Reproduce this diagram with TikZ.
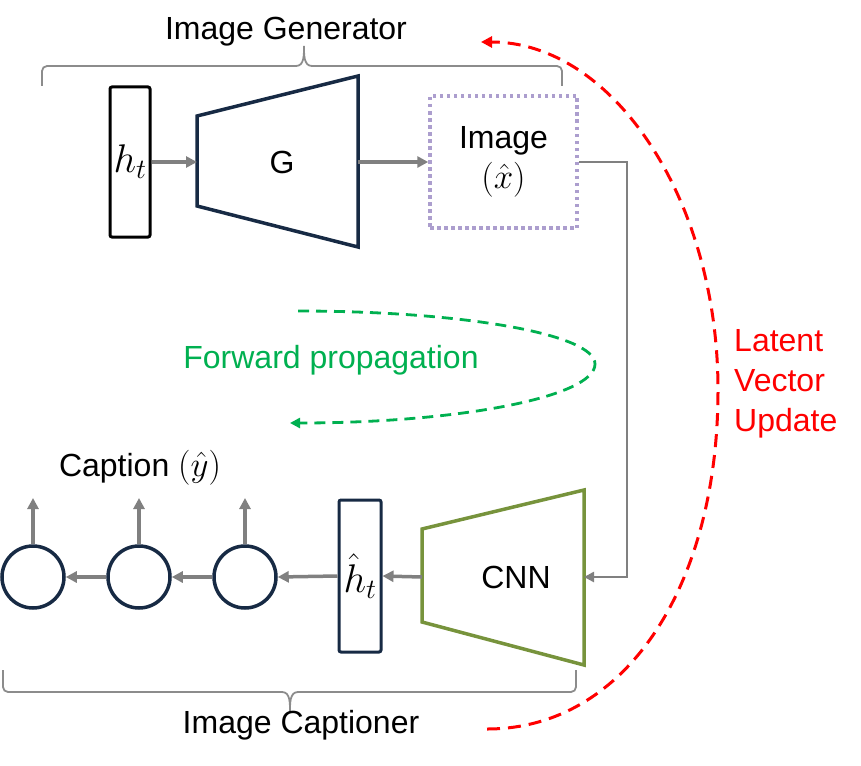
\documentclass[tikz,border=0pt]{standalone}
\usepackage{fix-cm}
\usepackage{fontspec}
\setmainfont{Liberation Sans}
\usetikzlibrary{arrows.meta}
\definecolor{navy}{RGB}{23,42,68}
\definecolor{arrgray}{RGB}{128,128,128}
\definecolor{bracegray}{RGB}{140,140,140}
\definecolor{lav}{RGB}{172,158,206}
\definecolor{olive}{RGB}{119,147,60}
\definecolor{fgreen}{RGB}{0,176,80}
\definecolor{lred}{RGB}{255,0,0}
\newcommand{\bigmath}[1]{{\fontsize{40}{44}\selectfont$#1$}}
\newcommand{\midmath}[1]{{\fontsize{35}{44}\selectfont$#1$}}
\begin{document}
\begin{tikzpicture}[x=1pt,y=-1pt,
  every node/.style={font=\fontsize{32}{44}\selectfont, inner sep=0pt},
  arr/.style={draw=arrgray, line width=3.5pt, -{Triangle[length=11pt,width=11pt]}},
  thinarr/.style={draw=arrgray, line width=2.5pt, -{Triangle[length=10pt,width=10pt]}},
  vecbox/.style={draw, line width=3pt, rounded corners=2pt, minimum width=40pt, minimum height=150pt},
  cell/.style={circle, draw=navy, line width=3.5pt, minimum size=62pt},
  bracestyle/.style={draw=bracegray, line width=1.8pt},
  trap/.style={line width=3.5pt, line join=miter},
  loopline/.style={line width=2.8pt}
]
\useasboundingbox (0,0) rectangle (861,765);

% ---------- Image generator ----------
\node[font=\fontsize{32}{40}\selectfont] (gentitle) at (286,32) {Image Generator};
\draw[bracestyle, rounded corners=5pt] (42,86) -- (42,66) -- (296,66);
\draw[bracestyle] (296,66) to[out=0,in=-90] (304,46) to[out=-90,in=180] (312,66);
\draw[bracestyle, rounded corners=5pt] (312,66) -- (562,66) -- (562,86);

\node[vecbox, draw=black] (ht) at (130,162) {\bigmath{h_t}};
\draw[trap, draw=navy] (197,116) -- (358,76) -- (358,247) -- (197,206) -- cycle;
\coordinate (Gl) at (197,162);
\coordinate (Gr) at (358,162);
\node (G) at (282,162) {G};
\node[draw=lav, line width=3.5pt, dash pattern=on 3.5pt off 3.5pt, minimum width=147pt, minimum height=132pt, align=center] (img) at (503.5,162) {Image\\[-4pt]\midmath{(\hat{x})}};

\draw[arr] (ht.east) -- (Gl);
\draw[arr] (Gr) -- (img.west);

% ---------- Image captioner ----------
\draw[trap, draw=olive] (422,529) -- (584,490) -- (584,665) -- (422,622) -- cycle;
\coordinate (Cl) at (422,577);
\coordinate (Cr) at (584,577);
\node (cnn) at (516,577) {CNN};
\node[vecbox, draw=navy, minimum width=42pt, minimum height=152pt] (hh) at (360,576) {\bigmath{\hat{h}_t}};

\node[cell] (c1) at (33,577) {};
\node[cell] (c2) at (139,577) {};
\node[cell] (c3) at (245,577) {};
\coordinate (u1) at (33,498);
\coordinate (u2) at (139,498);
\coordinate (u3) at (245,498);
\draw[arr] (c1.north) -- (u1);
\draw[arr] (c2.north) -- (u2);
\draw[arr] (c3.north) -- (u3);

\draw[arr] (Cl) -- (hh.east);
\draw[arr] (hh.west) -- (c3.east);
\draw[arr] (c3.west) -- (c2.east);
\draw[arr] (c2.west) -- (c1.east);

\draw[thinarr] (img.east) -- (627,162) |- (Cr);

\node (cap) at (140,468) {Caption \midmath{(\hat{y})}};

\draw[bracestyle, rounded corners=5pt] (3,670) -- (3,692) -- (282,692);
\draw[bracestyle] (282,692) to[out=0,in=90] (290,712) to[out=90,in=180] (298,692);
\draw[bracestyle, rounded corners=5pt] (298,692) -- (576,692) -- (576,670);
\node (captitle) at (301,725) {Image Captioner};

% ---------- forward propagation loop ----------
\coordinate (fs) at (298,311);
\coordinate (fm) at (595,364);
\coordinate (fe) at (290,423);
\draw[loopline, draw=fgreen, dash pattern=on 11pt off 7pt, -{Triangle[length=10pt,width=10pt]}]
  (fs) .. controls (462,311) and (595,334) .. (fm)
       .. controls (595,397) and (458,423) .. (fe);
\node[text=fgreen] (fwd) at (331,360) {Forward propagation};

% ---------- latent vector update loop ----------
\coordinate (ls) at (487,729);
\coordinate (lm) at (718,390);
\coordinate (le) at (481,42);
\draw[loopline, draw=lred, line width=3pt, dash pattern=on 13pt off 8pt, -{Triangle[length=11pt,width=11pt]}]
  (ls) .. controls (625,729) and (718,587) .. (lm)
       .. controls (718,198) and (612,42) .. (le);
\node[text=lred, align=left, anchor=west, font=\fontsize{32}{40}\selectfont] (lvu) at (734,384) {Latent\\Vector\\Update};
\end{tikzpicture}
\end{document}
